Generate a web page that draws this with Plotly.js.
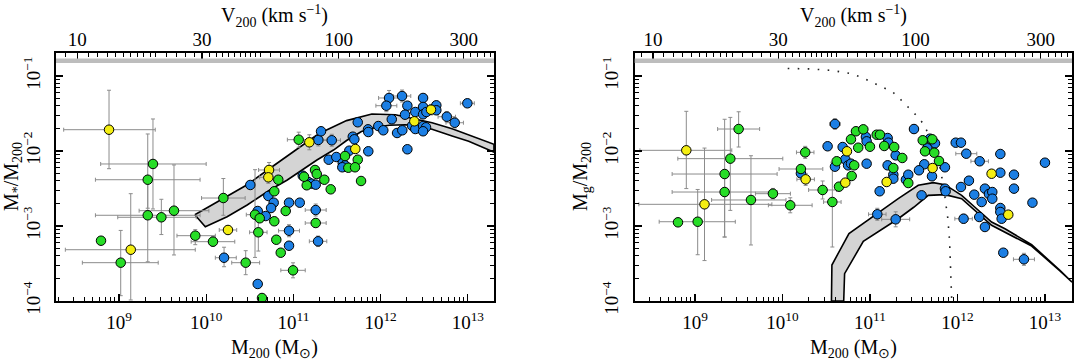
<!DOCTYPE html>
<html><head><meta charset="utf-8">
<script src="https://cdn.plot.ly/plotly-3.0.1.min.js"></script>
<style>html,body{margin:0;padding:0;background:#fff}#chart{width:1075px;height:362px}</style>
</head><body><div id="chart"></div>
<script>
// Each row: [log10 M200, log10 mass ratio, x err -, x err +, y err -, y err +] (errors in dex)
const starsBlue = [
 [10.205,-3.423,0.1,0.14,0.12,0.14],[10.506,-2.453],[10.591,-2.80],[10.683,-2.867],[10.591,-3.773,0,0,0.05,0.05],
 [10.713,-2.60],[10.774,-2.689],[10.744,-2.76],[10.950,-2.689],[11.073,-2.689],[10.950,-3.063,0.12,0.12,0.08,0.08],
 [10.950,-3.263],[11.256,-2.787,0.12,0.12,0.08,0.08],[11.283,-3.204,0.1,0.1,0.07,0.07],[11.107,-2.329],
 [11.171,-2.413],[11.21,-2.436],[11.256,-2.449],[11.286,-1.853,0.1,0.1,0.08,0.08],[11.317,-1.737],
 [11.440,-1.857,0.1,0.1,0.08,0.08],[11.405,-2.116],[11.492,-2.08],[11.566,-2.16],[11.592,-2.191],[11.561,-2.217],
 [11.641,-1.996],[11.859,-2.004],[11.681,-1.809],[11.699,-1.844],[11.738,-1.617],[11.856,-1.711],[11.859,-1.747],
 [11.974,-1.667],[12.031,-1.724],[12.128,-1.577],[12.189,-1.76],[12.249,-1.724],[12.097,-1.293,0.12,0.12,0.1,0.1],
 [12.066,-1.396,0.12,0.12,0.08,0.08],[12.246,-1.267,0.1,0.1,0.08,0.08],[12.307,-1.396],[12.280,-1.516],
 [12.361,-1.663],[12.398,-1.707],[12.307,-1.977],[12.398,-1.48],[12.487,-1.293],[12.487,-1.413],[12.487,-1.511],
 [12.525,-1.48],[12.487,-1.667],[12.521,-1.684],[12.487,-1.737],[12.639,-1.391],[12.639,-1.457],
 [12.759,-1.543,0.1,0.1,0.07,0.07],[12.850,-1.623,0.1,0.1,0.07,0.07],[12.995,-1.364,0.08,0.08,0,0]
];
const starsGreen = [
 [9.390,-2.173,0.60,0.61,0.60,0.60],[9.330,-2.383,0.60,0.60,0.38,0.61],[9.330,-2.857,0.60,0.60,0.62,0.48],
 [9.486,-2.884,0.5,0.4,0.23,0.24],[9.631,-2.796,0.4,0.4,0.59,0.61],[8.794,-3.196],[9.020,-3.489,0.44,0.43,0.44,0.43],
 [9.875,-3.129,0.21,0.23,0.12,0.08],[10.078,-3.209,0.25,0.25,0.06,0.07],[10.197,-2.627,0.25,0.25,0.23,0.26],
 [10.453,-3.489,0.16,0.16,0.16,0.16],[10.560,-2.849,0.1,0.1,0.57,0.6],[10.614,-2.897],[10.598,-3.084,0.1,0.1,0.25,0.25],
 [10.640,-3.96],[10.827,-2.383],[10.781,-2.537],[10.912,-2.80],[10.781,-2.937],[10.804,-3.183],[10.855,-3.356],
 [10.996,-3.591,0.14,0.14,0.1,0.1],[11.256,-2.96,0.12,0.12,0.06,0.06],[11.248,-2.253],[11.268,-2.307],
 [11.355,-2.383],[11.428,-2.511],[11.153,-2.457],[11.122,-2.343],[11.061,-1.849,0.13,0.13,0.1,0.1],
 [11.592,-2.067],[11.738,-2.116],[11.630,-2.223],[11.707,-2.217],[11.776,-2.40]
];
const starsYellow = [
 [8.886,-1.716,0.52,0.53,0.52,0.526],[9.135,-3.316,0.75,0.74,0.67,0.747],[10.25,-3.053,0.1,0.1,0.05,0.05],
 [10.721,-2.253,0.12,0.12,0.08,0.1],[10.713,-2.351,0.1,0.1,0.08,0.08],[11.183,-1.884,0.15,0.1,0.1,0.1],
 [11.71,-1.973],[12.387,-1.604],[12.578,-1.449,0.1,0.1,0.07,0.07]
];
const gasBlue = [
 [10.211,-2.298],[10.60,-1.64,0.06,0.06,0.07,0.07],[10.516,-1.937],[10.688,-1.947],[10.60,-2.209],[10.718,-2.111],
 [10.954,-1.813],[10.962,-1.871],[11.202,-1.827],[11.21,-1.889],[11.294,-2.058],[10.75,-2.191],[10.783,-2.169],
 [10.962,-2.169],[11.202,-2.191],[11.267,-2.316],[11.267,-2.369],[11.411,-2.383],[11.438,-2.316],[11.111,-2.537],
 [11.503,-1.707,0.05,0.05,0.06,0.06],[11.686,-1.836],[11.743,-1.897],[11.655,-1.964],[11.621,-2.177],[11.56,-2.257],
 [11.857,-2.217],[11.709,-2.337],[11.59,-2.591],[11.084,-2.844,0.1,0.1,0.08,0.08],[11.294,-2.911,0.16,0.16,0.1,0.1],
 [11.857,-2.502],[11.865,-2.537],[11.98,-1.889],[12.04,-1.889],[12.101,-2.036,0.12,0.12,0.05,0.05],
 [12.254,-2.137,0.1,0.1,0,0],[12.49,-2.04],[13.0,-2.156,0.05,0.05,0,0],[12.04,-2.48],[12.131,-2.396,0.05,0.05,0.05,0.05],
 [12.49,-2.289],[12.646,-2.316],[12.646,-2.502],[12.192,-2.582],[12.314,-2.502],[12.36,-2.573],[12.398,-2.547],
 [12.398,-2.636],[12.277,-2.68],[12.857,-2.689],[12.49,-2.76],[12.49,-2.813],[12.505,-2.903],
 [12.07,-2.903,0.1,0.1,0.06,0.06],[12.249,-2.88],[12.314,-3.013],[12.524,-3.356],[12.76,-3.444,0.12,0.12,0.08,0.08]
];
const gasGreen = [
 [9.499,-1.707,0.24,0.24,0.24,0.23],[9.404,-2.102,0.6,0.6,0.69,0.55],[9.339,-2.307,0.6,0.6,0.84,0.73],
 [9.339,-2.547,0.6,0.6,0.6,0.24],[9.64,-2.653,0.45,0.4,0.6,0.59],[8.806,-2.951],[9.031,-2.943,0.44,0.43,0.44,0.43],
 [9.891,-2.569,0.2,0.2,0.07,0.07],[10.089,-2.724,0.25,0.25,0.1,0.1],[10.26,-2.018,0.1,0.1,0.08,0.08],
 [10.211,-2.24,0.25,0.25,0.05,0.05],[10.459,-2.52,0.16,0.16,0.12,0.12],[10.57,-2.68,0.1,0.1,0.6,0.53],
 [10.62,-2.137],[10.646,-2.476],[10.84,-1.737,0.05,0.05,0.05,0.05],[10.924,-1.711,0.05,0.05,0.05,0.05],[10.783,-1.844],
 [10.866,-1.956],[11.0,-1.943],[11.077,-1.783],[11.114,-1.783],[11.163,-1.933],[11.277,-1.947],[11.369,-2.093],
 [10.82,-2.191],[11.267,-2.227],[10.791,-2.333],[11.438,-2.427],[11.603,-1.857],[11.712,-1.844],[11.629,-2.004],
 [11.735,-2.023],[11.789,-2.133]
];
const gasYellow = [
 [8.901,-1.991,0.53,0.52,0.51,0.52],[9.109,-2.711,0.75,0.77,0.75,0.75],[10.265,-2.378,0.1,0.1,0.08,0.08],
 [10.718,-2.422],[10.737,-2.004],[11.191,-2.413],[11.716,-2.227],[12.39,-2.303],[12.581,-2.849]
];
// model band, stellar panel
const starBandUpperLogM = [9.87,10.20,10.47,10.72,10.96,11.29,11.61,11.90,12.17,12.40,12.59,12.82,13.01,13.30];
const starBandUpperLogF = [-2.85,-2.63,-2.45,-2.24,-2.04,-1.77,-1.595,-1.507,-1.516,-1.569,-1.623,-1.703,-1.783,-1.91];
const starBandLowerLogM = [9.99,10.24,10.47,10.73,10.93,11.10,11.27,11.46,11.61,11.78,11.96,12.10,12.28,12.40,12.59,12.82,13.01,13.30];
const starBandLowerLogF = [-3.01,-2.876,-2.72,-2.52,-2.387,-2.253,-2.12,-1.987,-1.86,-1.74,-1.68,-1.657,-1.649,-1.657,-1.711,-1.80,-1.871,-2.016];
// model band, gas panel
const gasBandUpperLogM = [10.56,10.565,10.76,10.943,11.12,11.323,11.552,11.723,11.857,12.048,12.20,12.39,12.543,12.70,12.848,13.171,13.31];
const gasBandUpperLogF = [-4.0,-3.52,-3.10,-2.947,-2.80,-2.636,-2.457,-2.422,-2.449,-2.591,-2.75,-2.947,-3.036,-3.14,-3.249,-3.591,-3.741];
const gasBandLowerLogM = [10.70,10.71,10.924,11.095,11.323,11.50,11.666,11.857,12.048,12.39,12.60,12.848,13.171,13.31];
const gasBandLowerLogF = [-4.0,-3.636,-3.204,-3.08,-2.903,-2.75,-2.591,-2.582,-2.636,-2.991,-3.12,-3.267,-3.60,-3.75];
// dotted limit curve, gas panel
const limitLogM = [10.06,10.31,10.56,10.79,10.92,11.04,11.14,11.26,11.34,11.42,11.51,11.60,11.66,11.72,11.78,11.83,11.86,11.89,11.91,11.925,11.935];
const limitLogF = [-0.90,-0.905,-0.925,-0.969,-1.027,-1.089,-1.142,-1.213,-1.302,-1.391,-1.502,-1.622,-1.747,-1.88,-2.10,-2.40,-2.64,-2.90,-3.2,-3.6,-4.0];
const baryonFraction = 0.16;
const massTickExp = [9,10,11,12,13];
const fracTickExp = [-4,-3,-2,-1];
const velTicks = [10,30,100,300];
const logMofV100 = 11.521; // log10 M200 at V200 = 100 km/s

const P = v => Math.pow(10, v);
const COL = {blue:'#1c7fe4', green:'#27dd27', yellow:'#f4ee12'};
const FONT = 'Liberation Serif, Times New Roman, serif';

function markers(rows, color, xa, ya) {
  return {type:'scatter', mode:'markers', x:rows.map(r=>P(r[0])), y:rows.map(r=>P(r[1])), xaxis:xa, yaxis:ya,
    marker:{size:9.5, color:color, line:{color:'#000', width:1}}, hoverinfo:'skip'};
}
function errors(rows, xa, ya) {
  const g = (r,i) => r[i] || 0;
  return {type:'scatter', mode:'markers', x:rows.map(r=>P(r[0])), y:rows.map(r=>P(r[1])), xaxis:xa, yaxis:ya,
    marker:{size:2, color:'rgba(0,0,0,0)'}, hoverinfo:'skip',
    error_x:{type:'data', symmetric:false, array:rows.map(r=>P(r[0]+g(r,3))-P(r[0])), arrayminus:rows.map(r=>P(r[0])-P(r[0]-g(r,2))), color:'#8c8c8c', thickness:1, width:2},
    error_y:{type:'data', symmetric:false, array:rows.map(r=>P(r[1]+g(r,5))-P(r[1])), arrayminus:rows.map(r=>P(r[1])-P(r[1]-g(r,4))), color:'#8c8c8c', thickness:1, width:2}};
}
function band(uM, uF, lM, lF, xa, ya) {
  const xs = uM.concat(lM.slice().reverse(), [uM[0]]);
  const ys = uF.concat(lF.slice().reverse(), [uF[0]]);
  return {type:'scatter', mode:'lines', x:xs.map(P), y:ys.map(P), xaxis:xa, yaxis:ya, fill:'toself',
    fillcolor:'#d4d4d4', line:{color:'#000', width:1.6}, hoverinfo:'skip'};
}

const traces = [
  band(starBandUpperLogM, starBandUpperLogF, starBandLowerLogM, starBandLowerLogF, 'x', 'y'),
  band(gasBandUpperLogM, gasBandUpperLogF, gasBandLowerLogM, gasBandLowerLogF, 'x2', 'y2'),
  {type:'scatter', mode:'lines', x:limitLogM.map(P), y:limitLogF.map(P), xaxis:'x2', yaxis:'y2',
   line:{color:'#222', width:1.6, dash:'1.6px,8.4px'}, hoverinfo:'skip'},
  errors(starsBlue.concat(starsGreen, starsYellow), 'x', 'y'),
  errors(gasBlue.concat(gasGreen, gasYellow), 'x2', 'y2'),
  markers(starsBlue, COL.blue, 'x', 'y'), markers(starsGreen, COL.green, 'x', 'y'), markers(starsYellow, COL.yellow, 'x', 'y'),
  markers(gasBlue, COL.blue, 'x2', 'y2'), markers(gasGreen, COL.green, 'x2', 'y2'), markers(gasYellow, COL.yellow, 'x2', 'y2'),
  {type:'scatter', x:[], y:[], xaxis:'x3', yaxis:'y', hoverinfo:'skip'},
  {type:'scatter', x:[], y:[], xaxis:'x4', yaxis:'y2', hoverinfo:'skip'}
];

const massMinor = [], fracMinor = [];
for (let d = 8; d <= 13; d++) for (let k = 2; k <= 9; k++) massMinor.push(k * P(d));
for (let d = -5; d <= -1; d++) for (let k = 2; k <= 9; k++) fracMinor.push(k * P(d));
const velMinor = [9];
for (let v = 11; v < 20; v++) velMinor.push(v);
for (let v = 20; v < 50; v += 2) if (v !== 30) velMinor.push(v);
for (let v = 50; v < 100; v += 5) velMinor.push(v);
for (let v = 110; v < 200; v += 10) velMinor.push(v);
for (let v = 200; v < 400; v += 20) if (v !== 300) velMinor.push(v);

const tickFont = {family:FONT, size:19, color:'#000'};
const minorStyle = vals => ({ticks:'inside', ticklen:4, tickwidth:1, tickcolor:'#000', tickmode:'array', tickvals:vals, showgrid:false});
const yDom = [0.1685, 0.8536];
const leftRange = [8.278, 13.30], rightRange = [8.311, 13.309];

function massAxis(domain, range, anchor) {
  return {type:'log', domain:domain, range:range, anchor:anchor, showline:true, linecolor:'#000', linewidth:1.6, mirror:true,
    ticks:'inside', ticklen:7, tickwidth:1.2, tickcolor:'#000', tickmode:'array', tickvals:massTickExp.map(P),
    ticktext:massTickExp.map(e=>'10<sup>'+e+'</sup>'), tickfont:tickFont, ticklabelstandoff:4,
    showgrid:false, zeroline:false, automargin:false, minor:minorStyle(massMinor)};
}
function fracAxis(anchor) {
  return {type:'log', domain:yDom, range:[-4, -0.6933], anchor:anchor, showline:true, linecolor:'#000', linewidth:1.6, mirror:'ticks',
    ticks:'inside', ticklen:7, tickwidth:1.2, tickcolor:'#000', tickmode:'array', tickvals:fracTickExp.map(P),
    ticktext:fracTickExp.map(e=>'10<sup>\u2212'+Math.abs(e)+'</sup>'), tickangle:-90, tickfont:tickFont, ticklabelstandoff:7,
    showgrid:false, zeroline:false, automargin:false, minor:minorStyle(fracMinor)};
}
function velAxis(over, anchor, mRange) {
  return {type:'log', overlaying:over, anchor:anchor, side:'top',
    range:mRange.map(m => (m - logMofV100)/3 + 2), showline:false,
    ticks:'inside', ticklen:7, tickwidth:1.2, tickcolor:'#000', tickmode:'array', tickvals:velTicks,
    ticktext:velTicks.map(String), tickfont:tickFont, ticklabelstandoff:2,
    showgrid:false, zeroline:false, automargin:false, minor:minorStyle(velMinor)};
}

const ann = (text, x, y, xanchor, yanchor, angle, yshift) => ({text:text, x:x, y:y, xref:'paper', yref:'paper',
  xanchor:xanchor, yanchor:yanchor, textangle:angle||0, yshift:yshift||0, showarrow:false, font:{family:FONT, size:20, color:'#000'}});

const layout = {
  width:1075, height:362, margin:{l:0, r:0, t:0, b:0}, paper_bgcolor:'#fff', plot_bgcolor:'#fff', showlegend:false,
  xaxis:massAxis([0.0521, 0.4595], leftRange, 'y'),
  yaxis:fracAxis('x'),
  xaxis2:massAxis([0.5904, 0.9972], rightRange, 'y2'),
  yaxis2:fracAxis('x2'),
  xaxis3:velAxis('x', 'y', leftRange),
  xaxis4:velAxis('x2', 'y2', rightRange),
  shapes:[
    {type:'line', xref:'x domain', yref:'y', x0:0, x1:1, y0:baryonFraction, y1:baryonFraction, line:{color:'#bdbdbd', width:4.5}},
    {type:'line', xref:'x2 domain', yref:'y2', x0:0, x1:1, y0:baryonFraction, y1:baryonFraction, line:{color:'#bdbdbd', width:4.5}}
  ],
  annotations:[
    ann('M<sub>200</sub> (M<sub>\u2299</sub>)', 0.2558, 0.0, 'center', 'bottom', 0, -1),
    ann('M<sub>200</sub> (M<sub>\u2299</sub>)', 0.7938, 0.0, 'center', 'bottom', 0, -1),
    ann('V<sub>200</sub> (km s<sup>\u22121</sup>)', 0.2558, 1.0, 'center', 'top'),
    ann('V<sub>200</sub> (km s<sup>\u22121</sup>)', 0.7938, 1.0, 'center', 'top'),
    ann('M<sub>*</sub>/M<sub>200</sub>', 0.0112, 0.511, 'center', 'middle', -90),
    ann('M<sub>g</sub>/M<sub>200</sub>', 0.5405, 0.511, 'center', 'middle', -90)
  ]
};
Plotly.newPlot('chart', traces, layout, {displayModeBar:false, staticPlot:true});
</script></body></html>
